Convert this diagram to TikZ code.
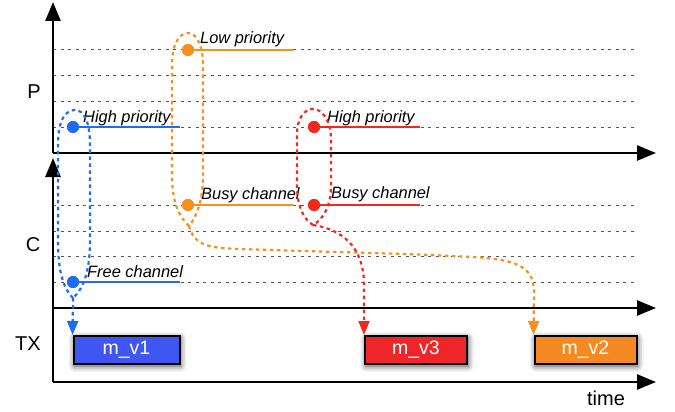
\documentclass[tikz,border=0pt]{standalone}
\usepackage{fontspec}
\setmainfont{Liberation Sans}
\usetikzlibrary{arrows.meta,shadows.blur}
\definecolor{cblue}{HTML}{1F6BF5}
\definecolor{cbluebox}{HTML}{3F56F2}
\definecolor{corange}{HTML}{F7901E}
\definecolor{corangebox}{HTML}{F58A22}
\definecolor{cred}{HTML}{F5281E}
\definecolor{credbox}{HTML}{EE2529}
\definecolor{cgrid}{HTML}{555555}
\tikzset{
  axis/.style={line width=2.5pt,-{Triangle[length=19pt,width=15pt]}},
  plainaxis/.style={line width=2.5pt},
  gridline/.style={draw=cgrid,line width=1pt,dash pattern=on 3pt off 4.5pt},
  dot/.style={circle,fill=#1,inner sep=0pt,minimum size=12pt},
  level/.style={draw=#1,line width=2pt},
  loopline/.style={draw=#1,line width=2.2pt,dash pattern=on 3.5pt off 3.5pt},
  flow/.style={loopline=#1,-{Triangle[length=14pt,width=11pt]}},
  msg/.style={draw=black,line width=2pt,fill=#1,text=white,minimum height=28pt,
    font=\fontsize{19.5}{19.5}\selectfont,
    blur shadow={shadow xshift=1pt,shadow yshift=-2pt,shadow blur radius=6pt,shadow opacity=75}},
  lbl/.style={font=\fontsize{16.4}{17}\selectfont\itshape,anchor=base west,inner sep=0pt},
  axlbl/.style={font=\fontsize{20}{20}\selectfont,inner sep=0pt}
}
\begin{document}
\begin{tikzpicture}[x=1pt,y=-1pt]
\useasboundingbox (0,0) rectangle (675,412);
% grid lines
\foreach \yy in {50,76,101,127} {\draw[gridline] (53,\yy) -- (634,\yy);}
\foreach \yy in {205,231,256,282} {\draw[gridline] (53,\yy) -- (637,\yy);}
% axes
\coordinate (o1) at (53,153);
\coordinate (o2) at (53,308);
\coordinate (o3) at (53,382);
\coordinate (p1) at (53,2);
\coordinate (p2) at (53,158);
\coordinate (h1) at (656,153);
\coordinate (h2) at (656,308);
\coordinate (h3) at (656,382);
\draw[axis] (o1) -- (p1);
\draw[axis] (o2) -- (p2);
\draw[plainaxis] (o3) -- (o2);
\draw[axis] (o1) -- (h1);
\draw[axis] (o2) -- (h2);
\draw[axis] (o3) -- (h3);
% axis labels
\node[axlbl] (lp) at (34,92) {P};
\node[axlbl] (lc) at (33,245) {C};
\node[axlbl] (ltx) at (28,344) {TX};
\node[axlbl,anchor=base] (ltime) at (606,405) {time};
% level lines and dots
\coordinate (bhe) at (180,127);
\coordinate (bfe) at (180,282);
\coordinate (ole) at (293,50);
\coordinate (obe) at (293,205);
\coordinate (rhe) at (420,127);
\coordinate (rbe) at (420,205);
\node[dot=cblue] (bh) at (73,127) {};
\node[dot=cblue] (bf) at (73,282) {};
\node[dot=corange] (ol) at (188,50) {};
\node[dot=corange] (ob) at (188,205) {};
\node[dot=cred] (rh) at (314,127) {};
\node[dot=cred] (rb) at (314,205) {};
\draw[level=cblue] (bh.center) -- (bhe);
\draw[level=cblue] (bf.center) -- (bfe);
\draw[level=corange] (ol.center) -- (ole);
\draw[level=corange] (ob.center) -- (obe);
\draw[level=cred] (rh.center) -- (rhe);
\draw[level=cred] (rb.center) -- (rbe);
\node[dot=cblue] at (bh) {};
\node[dot=cblue] at (bf) {};
\node[dot=corange] at (ol) {};
\node[dot=corange] at (ob) {};
\node[dot=cred] at (rh) {};
\node[dot=cred] at (rb) {};
% labels
\node[lbl] (tbh) at (83,122) {High priority};
\node[lbl] (tbf) at (87,277) {Free channel};
\node[lbl] (tol) at (200,44) {Low priority};
\node[lbl] (tob) at (201,199) {Busy channel};
\node[lbl] (trh) at (327,122) {High priority};
\node[lbl] (trb) at (331,198) {Busy channel};
% message boxes
\node[msg=cbluebox,minimum width=106pt] (v1) at (126.5,350) {m\_v1};
\node[msg=credbox,minimum width=102pt] (v3) at (416,350) {m\_v3};
\node[msg=corangebox,minimum width=102pt] (v2) at (585.5,350) {m\_v2};
% loops
\coordinate (bB) at (73,298);
\coordinate (oB) at (189,226);
\coordinate (rB) at (313,225);
\draw[loopline=cblue] (bB) .. controls (62,287) and (58,268) .. (58,240) -- (58,145)
  .. controls (58,119) and (66,110) .. (75,110) .. controls (84,110) and (90,122) .. (90,145)
  -- (90,240) .. controls (90,268) and (85,287) .. (bB);
\draw[flow=cblue] (bB) -- (v1.north west);
\draw[loopline=corange] (oB) .. controls (178,216) and (172,200) .. (172,175) -- (172,65)
  .. controls (172,43) and (180,33) .. (188,33) .. controls (196,33) and (203,45) .. (203,65)
  -- (203,175) .. controls (203,200) and (197,216) .. (oB);
\draw[flow=corange] (oB) .. controls (194,244) and (205,248) .. (240,249)
  .. controls (330,252) and (420,254) .. (450,256)
  .. controls (510,258) and (534,262) .. (534,292) -- (v2.north west);
\draw[loopline=cred] (rB) .. controls (303,219) and (297,205) .. (297,185) -- (297,135)
  .. controls (297,117) and (305,109) .. (313,109) .. controls (322,109) and (331,120) .. (331,140)
  -- (331,185) .. controls (331,205) and (324,219) .. (rB);
\draw[flow=cred] (rB) .. controls (340,229) and (364,245) .. (364,285) -- (v3.north west);
\end{tikzpicture}
\end{document}
